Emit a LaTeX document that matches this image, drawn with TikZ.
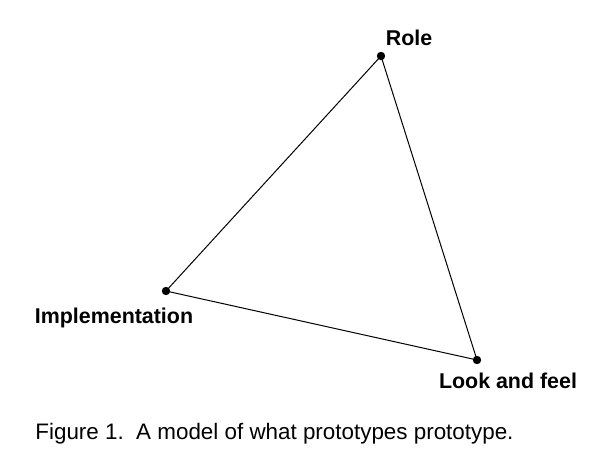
\documentclass[tikz,border=0pt]{standalone}
\usepackage{fontspec}
\setmainfont{Liberation Sans}
\usetikzlibrary{positioning}

\tikzset{
    vertex/.style={circle, fill=black, inner sep=0pt, minimum size=4.2pt},
    corner/.style={font=\fontsize{10.7}{12}\selectfont\bfseries, anchor=base, inner sep=0pt},
}

\begin{document}
\begin{tikzpicture}[x=0.5pt, y=-0.5pt]
    \useasboundingbox (0,0) rectangle (610,460);
    \node (role) [vertex] at (381,56) {};
    \node (impl) [vertex] at (166,291) {};
    \node (look) [vertex] at (477,360) {};
    \node (roletxt) [corner] at (409,46) {Role};
    \node (impltxt) [corner] at (114,323) {Implementation};
    \node (looktxt) [corner] at (508,388) {Look and feel};
    \draw [line width=0.5pt] (role.center) -- (impl.center) -- (look.center) -- cycle;
    \node (caption) [anchor=base west, inner sep=0pt, font=\fontsize{11.2}{13}\selectfont] at (35,439) {Figure 1.\ \ A model of what prototypes prototype.};
\end{tikzpicture}
\end{document}
